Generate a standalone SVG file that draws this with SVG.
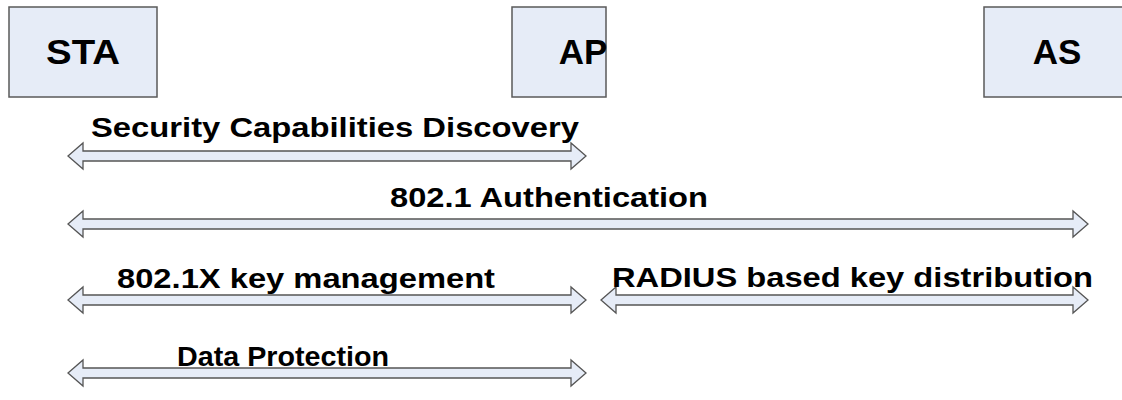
<svg xmlns="http://www.w3.org/2000/svg" width="1122" height="400" viewBox="0 0 1122 400">
<style>
.box{fill:#E6ECF7;stroke:#5A5A5A;stroke-width:1.5}
.arr{fill:#E6ECF7;stroke:#555;stroke-width:1.3}
.t{font-family:"Liberation Sans",Arial,sans-serif;font-weight:bold;fill:#000}
.n{font-size:35px}
.l{font-size:28px}
</style>
<rect width="1122" height="400" fill="#fff"/>
<g id="STA"><rect class="box" x="9" y="7" width="148" height="90"/><text class="t n" x="46" y="64" textLength="74" lengthAdjust="spacingAndGlyphs">STA</text></g>
<g id="AP"><rect class="box" x="512" y="7" width="94" height="90"/><text class="t n" x="583" y="64" text-anchor="middle">AP</text></g>
<g id="AS"><rect class="box" x="984" y="7" width="150" height="90"/><text class="t n" x="1057" y="64" text-anchor="middle">AS</text></g>
<g id="connectors">
<path class="arr" d="M68,156 L83,143 L83,151 L571,151 L571,143 L586,156 L571,169 L571,161 L83,161 L83,169 Z"/>
<path class="arr" d="M68,224 L83,211 L83,219 L1073,219 L1073,211 L1088,224 L1073,237 L1073,229 L83,229 L83,237 Z"/>
<path class="arr" d="M68,300 L83,287 L83,295 L571,295 L571,287 L586,300 L571,313 L571,305 L83,305 L83,313 Z"/>
<path class="arr" d="M601,300 L616,287 L616,295 L1073,295 L1073,287 L1088,300 L1073,313 L1073,305 L616,305 L616,313 Z"/>
<path class="arr" d="M68,373 L83,360 L83,368 L571,368 L571,360 L586,373 L571,386 L571,378 L83,378 L83,386 Z"/>
</g>
<g id="labels">
<text class="t l" x="91" y="137" textLength="488" lengthAdjust="spacingAndGlyphs">Security Capabilities Discovery</text>
<text class="t l" x="390" y="207" textLength="318" lengthAdjust="spacingAndGlyphs">802.1 Authentication</text>
<text class="t l" x="117" y="288" textLength="378" lengthAdjust="spacingAndGlyphs">802.1X key management</text>
<text class="t l" x="612" y="287" textLength="481" lengthAdjust="spacingAndGlyphs">RADIUS based key distribution</text>
<text class="t l" x="177" y="366" textLength="212" lengthAdjust="spacingAndGlyphs">Data Protection</text>
</g>
</svg>
